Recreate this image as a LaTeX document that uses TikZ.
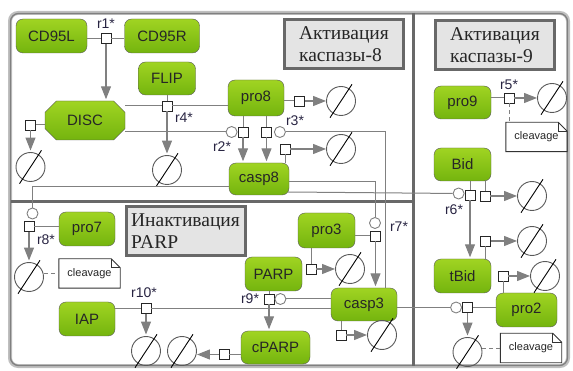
\documentclass[tikz,border=0pt]{standalone}
\usepackage{fontspec}
\setmainfont{Liberation Sans}
\newfontfamily\titlefont{Liberation Serif}
\usetikzlibrary{arrows.meta,positioning,calc,shapes.misc}
\definecolor{speciestop}{RGB}{160,212,34}
\definecolor{speciesbot}{RGB}{116,180,14}
\definecolor{edgegray}{RGB}{128,128,128}
\definecolor{framegray}{RGB}{104,104,104}
\definecolor{boxgray}{RGB}{228,228,228}
\definecolor{labelink}{RGB}{40,36,66}
\tikzset{
  species/.style={draw=black!65,top color=speciestop,bottom color=speciesbot,rounded corners=7pt,inner sep=0pt,text=black!85,font=\fontsize{15}{17}\selectfont},
  complexbox/.style={draw=black!70,top color=speciestop,bottom color=speciesbot,chamfered rectangle,chamfered rectangle xsep=6pt,chamfered rectangle ysep=6pt,minimum width=80pt,minimum height=39pt,inner sep=0pt,text=black!85,font=\fontsize{15}{17}\selectfont},
  reaction/.style={draw=black!85,fill=white,line width=.9pt,minimum size=10pt,inner sep=0pt},
  modifier/.style={circle,draw=edgegray,fill=white,line width=.9pt,minimum size=11pt,inner sep=0pt},
  sink/.style={circle,draw=black!65,line width=.9pt,minimum size=29pt,inner sep=0pt},
  sinkbar/.style={black,line width=.9pt},
  conn/.style={edgegray,line width=1pt},
  arr/.style={edgegray,line width=1.2pt,-{Triangle[length=13pt,width=10pt]}},
  note/.style={minimum width=61pt,minimum height=29pt,inner sep=0pt,text=black!85,font=\fontsize{11}{13}\selectfont},
  rlabel/.style={inner sep=0pt,text=labelink,font=\fontsize{14}{16}\selectfont},
  titlebox/.style={draw=framegray,fill=boxgray,line width=3pt,minimum width=119pt,inner sep=0pt,minimum height=49pt,align=left,text=black!85,font=\titlefont\fontsize{19.5}{22}\selectfont},
}
\begin{document}
\begin{tikzpicture}[x=1pt,y=-1pt]
\useasboundingbox (0,0) rectangle (573,371);
% panels
\draw[black!25,line width=4pt,rounded corners=8pt] (10,13) rectangle (568,366);
\draw[black!50,line width=1.3pt,rounded corners=8pt] (10.5,13.5) rectangle (567.5,365.5);
\draw[framegray,line width=3pt] (413,13)--(413,366);
\draw[framegray,line width=3pt] (11,201.5)--(413,201.5);
% species
\foreach \n/\x/\y/\w/\h in {CD95L/51.5/36/71/34,CD95R/162/36/75/34,FLIP/167/78.5/57/33,pro8/256/98/56/36,casp8/259/179/60/32,pro9/462.5/102.5/57/33,Bid/462.5/164.5/57/33,tBid/462.5/276/57/34,pro2/526.5/310/61/34,pro7/87/229/56/34,IAP/87/319/56/34,pro3/326.5/230.5/57/35,PARP/273.5/274/57/34,casp3/364/304.5/66/33,cPARP/275.5/347.5/69/33}
  \node[species,minimum width=\w pt,minimum height=\h pt] (\n) at (\x,\y) {\n};
\node[complexbox] (DISC) at (85,120.5) {DISC};
% titles
\node[titlebox] (title8) at (344,44.5) {Активация\\каспазы-8};
\node[titlebox] (title9) at (495,45.5) {Активация\\каспазы-9};
\node[titlebox] (titleP) at (185.5,231) {Инактивация\\PARP};
% reactions
\foreach \n/\x/\y in {r1/106/38.5,r4/167/106,r2/243/132,r3/266.5/132,r5/509/98,r6/470/195,r7/375.5/236,r8/29/226.5,r9/269/299,r10/146/308.5,r11/467.5/307.5,dDISC/30.5/125,dpro8/299.5/101,dcasp8/285/149,dBid/485/196,dtBid/485.5/241,dpro2/503/276,dpro3/311/269,dcasp3/341/335,dcPARP/224/354.5}
  \node[reaction] (\n) at (\x,\y) {};
\node[modifier,left=0pt of r2] (c2) {};
\node[modifier,right=2pt of r3] (c3) {};
\node[modifier,left=0pt of r6,yshift=1.5pt] (c6) {};
\node[modifier] (c7) at (375,223) {};
\node[modifier] (c8) at (32.5,213.5) {};
\node[modifier,right=0pt of r9] (c9) {};
\node[modifier,left=0pt of r11] (c11) {};
% sinks
\foreach \n/\x/\y in {sDISC/30.5/167,sr4/167/170,spro8/341/101,scasp8/341/149,sr5/552/98,sBid/532/196,stBid/532/241,spro2/545/276,sr11/467.5/352,sr8/29/277,sr10/146/351,scPARP/182/351,spro3/350/269,scasp3/382/335}{
  \node[sink] (\n) at (\x,\y) {};
  \draw[sinkbar] ([xshift=-11pt,yshift=-16.7pt]\n.center)--([xshift=11pt,yshift=16.7pt]\n.center);
}
% notes
\foreach \n/\x/\y in {n8/89.5/273.5,n5/536.5/137,n11/531/348}{
  \node[note] (\n) at (\x,\y) {cleavage};
  \draw[black!80,line width=.9pt] (\n.south west)--(\n.south east)--([yshift=-9pt]\n.north east)--([xshift=-9pt]\n.north east)--(\n.north west)--cycle;
  \draw[black!80,line width=.9pt] ([xshift=-9pt]\n.north east)--([xshift=-9pt,yshift=-9pt]\n.north east)--([yshift=-9pt]\n.north east);
}
% reaction labels
\node[rlabel,above=4pt of r1] (l1) {r1*};
\node[rlabel] (l2) at (222,147) {r2*};
\node[rlabel] (l3) at (295,121) {r3*};
\node[rlabel] (l4) at (184,118) {r4*};
\node[rlabel,above=3pt of r5] (l5) {r5*};
\node[rlabel] (l6) at (454,210) {r6*};
\node[rlabel] (l7) at (399,227) {r7*};
\node[rlabel] (l8) at (46,240) {r8*};
\node[rlabel] (l9) at (250,299) {r9*};
\node[rlabel] (l10) at (144,293) {r10*};
% thin lines, horizontal
\foreach \a/\b in {CD95L.east/r1,CD95R.west/r1,DISC.east/r4,pro8.west/r4,DISC.west/dDISC,DISC.east/c2,pro8.east/dpro8,pro9.east/r5,pro3.east/r7,pro7.west/r8,IAP.east/r10,casp3.west/r10,casp3.west/c9,casp3.east/c11,pro2.west/r11,cPARP.west/dcPARP}
  \draw[conn] (\a|-\b)--(\b);
% thin lines, vertical
\foreach \a/\b in {FLIP.south/r4,pro8.south/r2,pro8.south/r3,Bid.south/r6,Bid.south/dBid,tBid.north/dtBid,casp8.north/dcasp8,pro2.north/dpro2,pro3.south/dpro3,PARP.south/r9,casp3.south/dcasp3}
  \draw[conn] (\b|-\a)--(\b);
% modifiers from far away
\draw[conn] (c3)-|([xshift=21.5pt]casp3.north);
\draw[conn] ([yshift=-3pt]casp8.east)-|(c7);
\draw[conn] ([yshift=-8pt]casp8.west)-|(c8);
\draw[conn] ([xshift=-1pt,yshift=-13pt]casp8.east)--(c6);
% arrows, vertical
\foreach \a/\b in {r1/DISC.north,r4/sr4.north,r2/casp8.north,r3/casp8.north,r6/tBid.north,r7/casp3.north,r9/cPARP.north,dDISC/sDISC.north,r8/sr8.north,r10/sr10.north,r11/sr11.north}
  \draw[arr,shorten >=1.5pt] (\a)--(\a|-\b);
% arrows, horizontal
\foreach \a/\b in {r5/sr5,dpro8/spro8,dcasp8/scasp8,dBid/sBid,dtBid/stBid,dpro2/spro2,dpro3/spro3,dcasp3/scasp3}
  \draw[arr] (\a)--(\b.west|-\a);
\draw[arr] (dcPARP)--(scPARP.east|-dcPARP);
% notes to their reactions
\draw[conn,dash pattern=on 4pt off 3pt] (sr8.east|-n8)--(n8.west);
\draw[conn,dash pattern=on 4pt off 3pt] (r5)--(r5|-n5.north);
\draw[conn,dash pattern=on 4pt off 3pt] (sr11.east|-n11)--(n11.west);
\end{tikzpicture}
\end{document}
